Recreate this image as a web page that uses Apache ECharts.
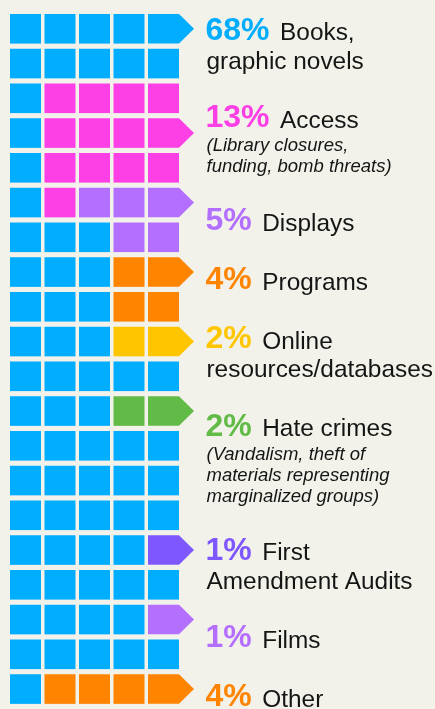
<!DOCTYPE html>
<html><head><meta charset="utf-8">
<script src="https://cdn.jsdelivr.net/npm/echarts@6/dist/echarts.min.js"></script>
<style>html,body{margin:0;padding:0;background:#F2F2EB;}#c{width:435px;height:709px;}</style>
</head><body><div id="c"></div>
<script>
// ---- data ----
const categories = ['Books,\ngraphic novels', 'Access', 'Displays', 'Programs', 'Online\nresources/databases', 'Hate crimes', 'First\nAmendment Audits', 'Films', 'Other'];
const percents = [68, 13, 5, 4, 2, 2, 1, 1, 4];
const notes = ['', '(Library closures,\nfunding, bomb threats)', '', '', '', '(Vandalism, theft of\nmaterials representing\nmarginalized groups)', '', '', ''];
// row (0 = top) whose last cell carries the arrow for each category
const arrowRows = [0, 3, 5, 7, 9, 11, 15, 17, 19];
// category index of each cell, row by row (5 cells per row)
const cellRows = ['00000','00000','01111','01111','01111','01222','00022','00033','00033','00044',
                  '00000','00055','00000','00000','00000','00006','00000','00007','00000','08888'];

// ---- style ----
const palette = ['#00ADFF', '#FC40E6', '#B36FFF', '#FF8500', '#FFC600', '#62BB47', '#7F57FF', '#B56FFF', '#FF8500'];
const FONT = '"Liberation Sans", Arial, Helvetica, sans-serif';
const BG = '#F2F2EB';

const cells = [];
cellRows.forEach((r, row) => {
  for (let col = 0; col < r.length; col++) {
    const cat = +r[col];
    const isArrow = (col === r.length - 1 && arrowRows[cat] === row) ? 1 : 0;
    cells.push([col, row, cat, isArrow]);
  }
});

const chart = echarts.init(document.getElementById('c'), null, {renderer: 'canvas'});
chart.setOption({
  backgroundColor: BG,
  animation: false,
  grid: {left: 10, top: 14, width: 172.5, height: 703},
  xAxis: {type: 'value', min: 0, max: 5, show: false},
  yAxis: {type: 'value', min: 0, max: 20, inverse: true, show: false},
  series: [{
    type: 'custom',
    coordinateSystem: 'cartesian2d',
    clip: false,
    data: cells,
    encode: {x: 0, y: 1},
    renderItem(params, api) {
      const col = api.value(0), row = api.value(1), cat = api.value(2), arrow = api.value(3);
      const p = api.coord([col, row]);
      const s = api.size([1, 1]);
      const w = s[0] - 3.5, h = s[1] - 5.15;
      const fill = palette[cat];
      if (arrow) {
        return {type: 'polygon', shape: {points: [[p[0], p[1]], [p[0] + w, p[1]], [p[0] + w + 15, p[1] + h / 2], [p[0] + w, p[1] + h], [p[0], p[1] + h]]}, style: {fill}};
      }
      return {type: 'rect', shape: {x: p[0], y: p[1], width: w, height: h}, style: {fill}};
    }
  }]
});

// ---- labels (flow layout to the right of the arrows) ----
const ctx = document.createElement('canvas').getContext('2d');
function measure(txt, font) { ctx.font = font; return ctx.measureText(txt).width; }
const right = chart.convertToPixel({gridIndex: 0}, [5, 0]);
const lx = right[0] + 23;
let base = right[1] + 28;
const PCT = 32, NAME = 24.4, NOTE = 18.5;
const pctFont = 'bold ' + PCT + 'px ' + FONT;
const nameFont = NAME + 'px ' + FONT;
const noteFont = 'italic ' + NOTE + 'px ' + FONT;
const graphics = [];
function addText(txt, x, baseline, font, size, fill) {
  graphics.push({type: 'text', x: x, y: baseline - 0.35 * size, silent: true,
    style: {text: txt, font: font, fill: fill, verticalAlign: 'middle', align: 'left'}});
}
categories.forEach((name, i) => {
  const pct = percents[i] + '%';
  addText(pct, lx, base, pctFont, PCT, palette[i]);
  const pw = measure(pct, pctFont);
  const lines = name.split('\n');
  let b = base;
  lines.forEach((ln, k) => {
    if (k === 0) addText(ln, lx + pw + 10.5, b, nameFont, NAME, '#151515');
    else { b += 28.5; addText(ln, lx + 1, b, nameFont, NAME, '#151515'); }
  });
  if (notes[i]) {
    notes[i].split('\n').forEach((ln, k) => {
      b += (k === 0 ? 23 : 21);
      addText(ln, lx + 1, b, noteFont, NOTE, '#151515');
    });
  }
  base = b + 59;
});
chart.setOption({graphic: graphics});
</script>
</body></html>
